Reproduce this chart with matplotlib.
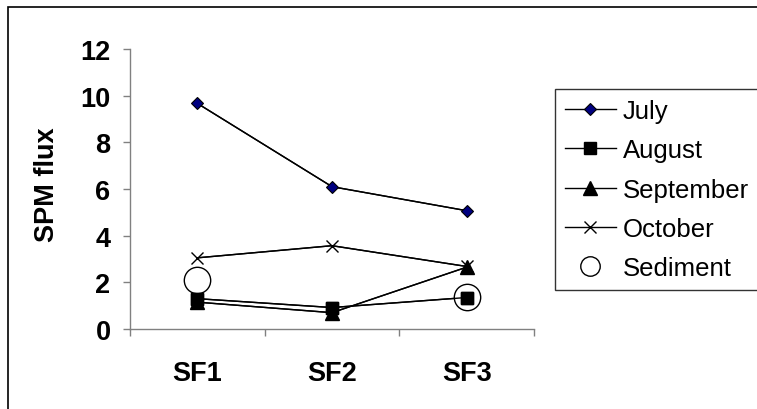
import matplotlib
matplotlib.use("Agg")
import matplotlib.pyplot as plt
from matplotlib.patches import Rectangle
import numpy as np

plt.rcParams['font.family'] = ['Liberation Sans', 'DejaVu Sans']

sites = ["SF1", "SF2", "SF3"]
july = [9.67, 6.1, 5.07]
august = [1.3, 0.92, 1.35]
september = [1.15, 0.7, 2.65]
october = [3.05, 3.57, 2.68]
sediment = [2.1, np.nan, 1.38]
yticks = [0, 2, 4, 6, 8, 10, 12]

x = np.arange(len(sites))

fig = plt.figure(figsize=(7.57, 4.10), dpi=100)
ax = fig.add_axes([130/757, 1-330/410, 404/757, 280/410])

# outer chart frame (right/bottom edges fall outside the picture)
fig.patches.append(Rectangle((8/757, -0.2), 1.2, 1.2 - 8/410,
                             transform=fig.transFigure, fill=False,
                             edgecolor='black', lw=1.2, clip_on=False))

series = [
    ("July", july, dict(marker='D', ms=6.3, mfc='#000080', mec='black', mew=0.8)),
    ("August", august, dict(marker='s', ms=9, mfc='black', mec='black')),
    ("September", september, dict(marker='^', ms=10, mfc='black', mec='black')),
    ("October", october, dict(marker='x', ms=9, mec='black', mew=1)),
]

handles = []
for name, vals, style in series:
    ax.plot(x, vals, color='black', lw=1, zorder=2)
    h, = ax.plot(x, vals, color='black', lw=1, label=name, zorder=4, **style)
    handles.append(h)

sed, = ax.plot(x, sediment, ls='none', marker='o', ms=19, mfc='white',
               mec='black', mew=1, label="Sediment", zorder=3)
handles.append(sed)
# squares sit on top of the sediment circle at SF3
ax.plot(x, august, ls='none', marker='s', ms=9, mfc='black', mec='black', zorder=5)

ax.set_xlim(-0.5, 2.5)
ax.set_ylim(0, 12)
ax.set_yticks(yticks)
ax.set_yticklabels([str(v) for v in yticks], fontsize=19.5, fontweight='bold')
ax.set_xticks([-0.5, 0.5, 1.5, 2.5])
ax.set_xticklabels([])
ax.set_xticks(x, minor=True)
ax.set_xticklabels(sites, minor=True, fontsize=19.5, fontweight='bold')
ax.tick_params(axis='x', which='minor', length=0, pad=22)
ax.tick_params(axis='x', which='major', length=5, width=1, color='#808080', direction='out')
ax.tick_params(axis='y', length=5, width=1, color='#808080', direction='out', pad=9)

for s in ['top', 'right']:
    ax.spines[s].set_visible(False)
for s in ['left', 'bottom']:
    ax.spines[s].set_color('#808080')
    ax.spines[s].set_linewidth(1)

ax.set_ylabel("SPM flux", fontsize=19.5, fontweight='bold')
ax.yaxis.set_label_coords(-0.173, 0.518)

leg = fig.legend(handles=handles, loc='upper left',
                 bbox_to_anchor=(555/757, 1-90/410), borderaxespad=0,
                 fontsize=18.5, frameon=True, fancybox=False,
                 edgecolor='black', handlelength=2.0, handletextpad=0.27,
                 labelspacing=0.6, borderpad=0.38, numpoints=1)
leg.get_frame().set_linewidth(1)
leg.legend_handles[4].set_markersize(14)

fig.savefig("out.png", dpi=100)
